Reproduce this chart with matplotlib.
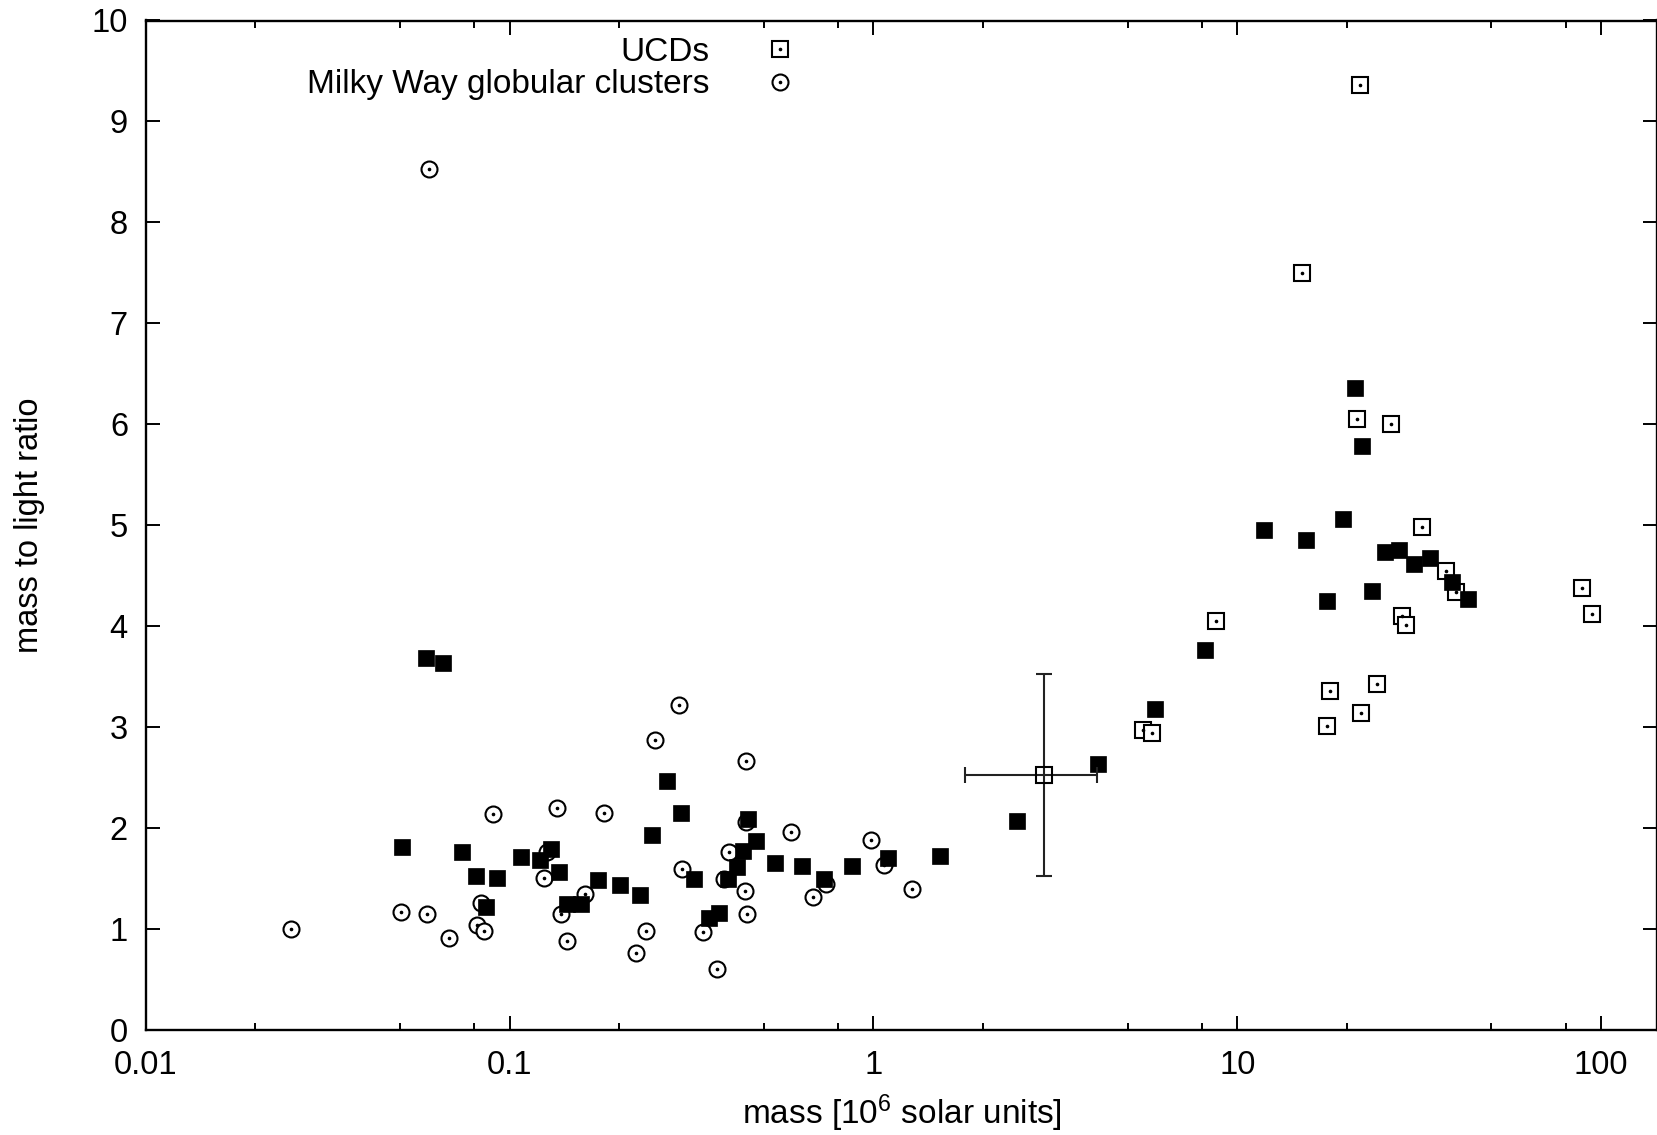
import matplotlib
matplotlib.use("Agg")
import matplotlib.pyplot as plt
from matplotlib.ticker import LogLocator, NullFormatter
from matplotlib.lines import Line2D
from matplotlib.legend_handler import HandlerTuple

plt.rcParams['font.family'] = ['Liberation Sans', 'DejaVu Sans']
plt.rcParams['mathtext.fontset'] = 'custom'
plt.rcParams['mathtext.rm'] = 'Liberation Sans'
plt.rcParams['mathtext.it'] = 'Liberation Sans:italic'

# Milky Way globular clusters (open circles), mass in 10^6 solar units
gc_mass = [0.0600, 0.0250, 0.0501, 0.0593, 0.0682, 0.0811, 0.0850, 0.0833, 0.0897,
           0.1245, 0.1270, 0.1349, 0.1386, 0.1433, 0.1606, 0.1811, 0.2228, 0.2366,
           0.2513, 0.2911, 0.2970, 0.3396, 0.3704, 0.3882, 0.4013, 0.4467, 0.4467,
           0.4437, 0.4497, 0.5916, 0.6808, 0.7426, 0.9833, 1.0656, 1.2764]
gc_ml = [8.53, 1.00, 1.17, 1.15, 0.91, 1.04, 0.98, 1.26, 2.14,
         1.51, 1.77, 2.20, 1.15, 0.88, 1.35, 2.15, 0.77, 0.98,
         2.87, 3.22, 1.60, 0.97, 0.61, 1.50, 1.77, 2.06, 2.67,
         1.38, 1.15, 1.96, 1.32, 1.45, 1.88, 1.64, 1.40]

# UCDs (open squares)
ucd_mass = [5.52, 5.82, 8.73, 15.1, 17.7, 18.0, 21.3, 21.8, 21.9,
            24.3, 26.5, 28.3, 29.2, 32.2, 37.4, 40.0, 88.7, 94.6]
ucd_ml = [2.97, 2.94, 4.05, 7.50, 3.01, 3.36, 6.05, 9.36, 3.14,
          3.43, 6.00, 4.10, 4.01, 4.98, 4.55, 4.34, 4.38, 4.12]

# third data set (filled squares, no title)
fill_mass = [0.0589, 0.0657, 0.0506, 0.0738, 0.0807, 0.0925, 0.0859, 0.1073, 0.1212,
             0.1299, 0.1370, 0.1435, 0.1568, 0.1753, 0.2015, 0.2274, 0.2459, 0.2714,
             0.2960, 0.3214, 0.3524, 0.3771, 0.3992, 0.4217, 0.4380, 0.4533, 0.4755,
             0.5375, 0.6367, 0.7317, 0.8719, 1.099, 1.524, 2.48, 4.15, 5.94, 8.18,
             11.85, 15.5, 17.7, 19.5, 21.1, 22.0, 23.4, 25.5, 27.8, 30.7, 33.9,
             39.0, 43.2]
fill_ml = [3.69, 3.64, 1.82, 1.77, 1.53, 1.51, 1.22, 1.72, 1.69,
           1.80, 1.57, 1.25, 1.25, 1.49, 1.44, 1.34, 1.93, 2.47,
           2.15, 1.50, 1.11, 1.16, 1.50, 1.62, 1.78, 2.09, 1.87,
           1.66, 1.63, 1.50, 1.63, 1.71, 1.73, 2.07, 2.64, 3.18, 3.77,
           4.95, 4.86, 4.25, 5.06, 6.36, 5.79, 4.35, 4.74, 4.76, 4.62, 4.68,
           4.44, 4.27]

# point with error bars
err_mass = [2.95]
err_ml = [2.53]
err_dx = [1.16]
err_dy = [1.0]

x_ticks = [0.01, 0.1, 1, 10, 100]
x_tick_labels = ['0.01', '0.1', '1', '10', '100']
y_ticks = list(range(0, 11))

fig = plt.figure(figsize=(16.57, 11.35), dpi=100)
ax = fig.add_axes([146 / 1657, 1 - 1030.3 / 1135, 1 - 146 / 1657, (1030.3 - 20.5) / 1135])

ax.plot(ucd_mass, ucd_ml, ls='none', marker='s', ms=11, mfc='white', mec='black', mew=1.5)
ax.plot(ucd_mass, ucd_ml, ls='none', marker='o', ms=1.6, color='black')
ax.plot(gc_mass, gc_ml, ls='none', marker='o', ms=11.5, mfc='white', mec='black', mew=1.5)
ax.plot(gc_mass, gc_ml, ls='none', marker='o', ms=1.6, color='black')
ax.plot(fill_mass, fill_ml, ls='none', marker='s', ms=11.2, mfc='black', mec='black', mew=0.5)
ax.errorbar(err_mass, err_ml, xerr=err_dx, yerr=err_dy, fmt='s', ms=11, mfc='none',
            mec='black', mew=1.5, ecolor='#222222', elinewidth=1.5, capsize=5.5, capthick=1.5)

ax.set_xscale('log')
ax.set_xlim(0.01, 142.6)
ax.set_ylim(0, 10)
ax.set_xticks(x_ticks, labels=x_tick_labels)
ax.xaxis.set_minor_locator(LogLocator(base=10, subs=(2, 5, 8)))
ax.xaxis.set_minor_formatter(NullFormatter())
ax.set_yticks(y_ticks)

ax.tick_params(which='both', direction='in', top=True, right=True, labelsize=23.5, width=1.4, color='black')
ax.tick_params(which='major', length=10)
ax.tick_params(which='minor', length=5)
ax.tick_params(axis='x', pad=14)
ax.tick_params(axis='y', pad=13)
for s in ax.spines.values():
    s.set_linewidth(1.7)

fig.text((146 + 1657) / 2 / 1657, 1 - 1124 / 1135, 'mass [10$^6$ solar units]',
         ha='center', va='baseline', fontsize=24)
fig.text(30 / 1657, 1 - 525 / 1135, 'mass to light ratio', rotation=90,
         ha='center', va='center', fontsize=23.5)

# gnuplot-style key: open marker with a dot in the middle
sq = Line2D([], [], ls='none', marker='s', ms=11, mfc='white', mec='black', mew=1.5)
circ = Line2D([], [], ls='none', marker='o', ms=11.5, mfc='white', mec='black', mew=1.5)
dot1 = Line2D([], [], ls='none', marker='o', ms=1.6, color='black')
dot2 = Line2D([], [], ls='none', marker='o', ms=1.6, color='black')
fig.legend([(sq, dot1), (circ, dot2)], ['UCDs', 'Milky Way globular clusters'], loc='upper right',
           bbox_to_anchor=(813 / 1657, 1 - 20 / 1135), frameon=False, markerfirst=False,
           fontsize=24, handlelength=1.0, handletextpad=1.6, labelspacing=0.05, borderpad=0,
           handler_map={tuple: HandlerTuple(ndivide=1)})

fig.savefig('out.png', dpi=100)
